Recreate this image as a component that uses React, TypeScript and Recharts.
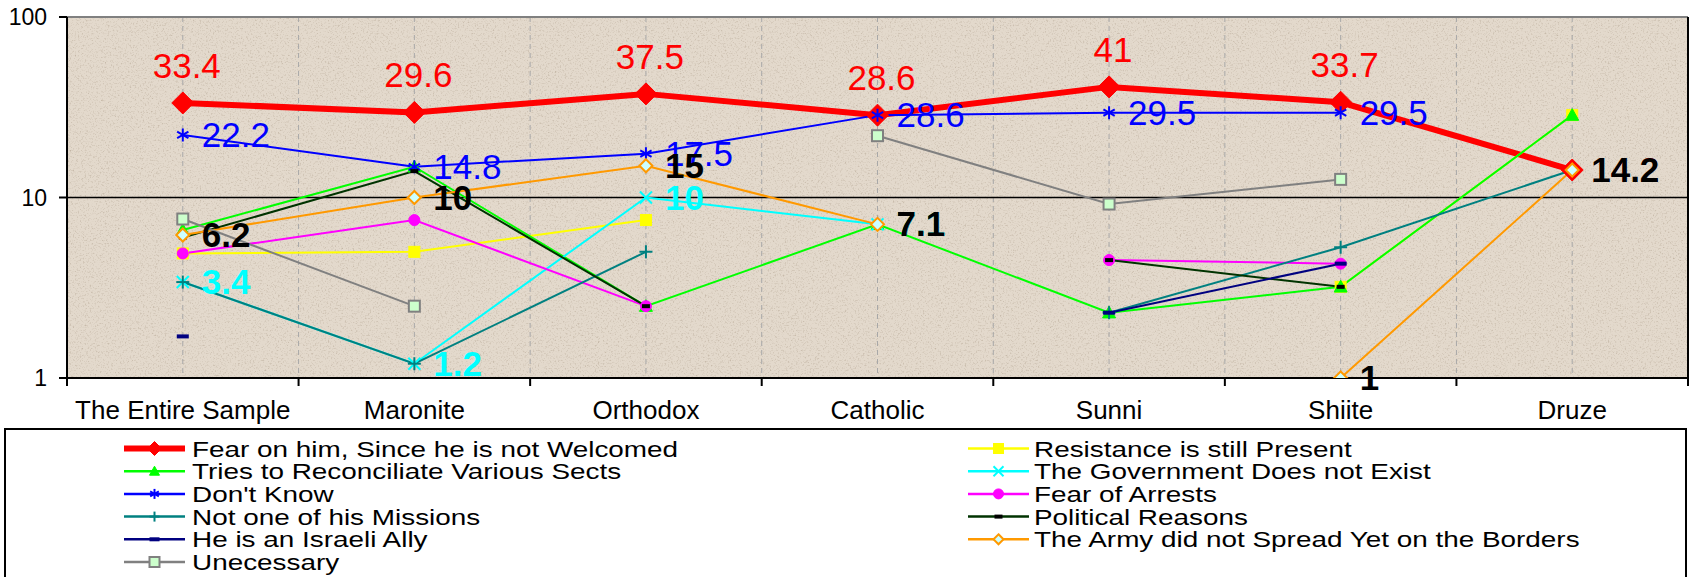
import React from 'react';
import { LineChart, Line, XAxis, YAxis, CartesianGrid, ReferenceLine } from 'recharts';

const CATEGORIES = ['The Entire Sample', 'Maronite', 'Orthodox', 'Catholic', 'Sunni', 'Shiite', 'Druze'];
const Y_TICKS = [1, 10, 100];

const fearNotWelcomed = [33.4, 29.6, 37.5, 28.6, 41, 33.7, 14.2];
const resistancePresent = [4.9, 5, 7.5, null, null, 3.2, 28.6];
const reconcileSects = [6.6, 14.8, 2.5, 7.1, 2.3, 3.2, 28.6];
const govNotExist = [3.4, 1.2, 10, 7.1, null, null, null];
const dontKnow = [22.2, 14.8, 17.5, 28.6, 29.5, 29.5, null];
const fearArrests = [4.9, 7.5, 2.5, null, 4.5, 4.3, null];
const notMission = [3.4, 1.2, 5, null, 2.3, 5.3, 14.2];
const politicalReasons = [6, 14, 2.5, null, 4.5, 3.2, null];
const israeliAlly = [1.7, null, null, null, 2.3, 4.3, null];
const armyNotSpread = [6.2, 10, 15, 7.1, null, 1, 14.2];
const unnecessary = [7.6, 2.5, null, 22, 9.2, 12.6, null];

const W = 1689;
const H = 577;
const M_TOP = 17;
const M_BOTTOM = 149;
const X_AXIS_H = 50;
const Y_AXIS_W = 67;
const RIGHT_W = 1;
const PLOT_BOTTOM = H - M_BOTTOM - X_AXIS_H;
const PLOT_W = W - Y_AXIS_W - RIGHT_W;
const BAND = PLOT_W / CATEGORIES.length;
const FONT = '"Liberation Sans", Arial, Helvetica, sans-serif';

type Series = {
  key: string;
  name: string;
  values: (number | null)[];
  color: string;
  width: number;
  marker: string;
  size: number;
  fill?: string;
  mstroke?: string;
  label?: 'above' | 'right';
  labelColor?: string;
  bold?: boolean;
};

const SERIES: Series[] = [
  { key: 'fear', name: 'Fear on him, Since he is not Welcomed', values: fearNotWelcomed, color: '#FF0000', width: 6, marker: 'diamond', size: 11, label: 'above', labelColor: '#FF0000' },
  { key: 'resist', name: 'Resistance is still Present', values: resistancePresent, color: '#FFFF00', width: 2, marker: 'square', size: 5.5 },
  { key: 'reconcile', name: 'Tries to Reconciliate Various Sects', values: reconcileSects, color: '#00FF00', width: 2, marker: 'triangle', size: 6.5 },
  { key: 'gov', name: 'The Government Does not Exist', values: govNotExist, color: '#00FFFF', width: 2, marker: 'x', size: 6, label: 'right', labelColor: '#00FFFF', bold: true },
  { key: 'dk', name: "Don't Know", values: dontKnow, color: '#0000FF', width: 2, marker: 'star', size: 6.5, label: 'right', labelColor: '#0000FF' },
  { key: 'arrest', name: 'Fear of Arrests', values: fearArrests, color: '#FF00FF', width: 2, marker: 'circle', size: 5.5 },
  { key: 'mission', name: 'Not one of his Missions', values: notMission, color: '#008080', width: 2, marker: 'plus', size: 6.5 },
  { key: 'political', name: 'Political Reasons', values: politicalReasons, color: '#003300', width: 2, marker: 'dash', size: 4, fill: '#000000' },
  { key: 'israeli', name: 'He is an Israeli Ally', values: israeliAlly, color: '#000080', width: 2, marker: 'dash', size: 6, fill: '#000080' },
  { key: 'army', name: 'The Army did not Spread Yet on the Borders', values: armyNotSpread, color: '#FF9900', width: 2, marker: 'diamond', size: 6.5, fill: '#CCFFFF', mstroke: '#FF9900', label: 'right', labelColor: '#000000', bold: true },
  { key: 'unnec', name: 'Unecessary', values: unnecessary, color: '#808080', width: 2, marker: 'square', size: 5.5, fill: '#CCFFCC', mstroke: '#808080' },
];

const LEGEND_LEFT = ['fear', 'reconcile', 'dk', 'mission', 'israeli', 'unnec'];
const LEGEND_RIGHT = ['resist', 'gov', 'arrest', 'political', 'army'];

function Marker({ s, cx, cy }: { s: Series; cx: number; cy: number }) {
  const r = s.size;
  const c = s.color;
  switch (s.marker) {
    case 'diamond':
      return (
        <polygon
          points={`${cx},${cy - r} ${cx + r},${cy} ${cx},${cy + r} ${cx - r},${cy}`}
          fill={s.fill || c}
          stroke={s.mstroke || c}
          strokeWidth={s.fill ? 2 : 1}
        />
      );
    case 'square':
      return <rect x={cx - r} y={cy - r} width={2 * r} height={2 * r} fill={s.fill || c} stroke={s.mstroke || c} strokeWidth={s.mstroke ? 2 : 1} />;
    case 'triangle':
      return <polygon points={`${cx},${cy - r} ${cx + r},${cy + r * 0.8} ${cx - r},${cy + r * 0.8}`} fill={c} stroke={c} />;
    case 'circle':
      return <circle cx={cx} cy={cy} r={r} fill={c} stroke={c} />;
    case 'star':
      return (
        <g stroke={c} strokeWidth={2}>
          <line x1={cx} y1={cy - r} x2={cx} y2={cy + r} />
          <line x1={cx - r * 0.87} y1={cy - r * 0.5} x2={cx + r * 0.87} y2={cy + r * 0.5} />
          <line x1={cx - r * 0.87} y1={cy + r * 0.5} x2={cx + r * 0.87} y2={cy - r * 0.5} />
        </g>
      );
    case 'x':
      return (
        <g stroke={c} strokeWidth={2}>
          <line x1={cx - r} y1={cy - r} x2={cx + r} y2={cy + r} />
          <line x1={cx - r} y1={cy + r} x2={cx + r} y2={cy - r} />
        </g>
      );
    case 'plus':
      return (
        <g stroke={c} strokeWidth={2}>
          <line x1={cx} y1={cy - r} x2={cx} y2={cy + r} />
          <line x1={cx - r} y1={cy} x2={cx + r} y2={cy} />
        </g>
      );
    case 'dash':
      return <rect x={cx - r} y={cy - 2} width={2 * r} height={4} fill={s.fill || c} />;
    default:
      return null;
  }
}

function makeDot(s: Series) {
  return (p: any) => {
    const k = `${s.key}-dot-${p.index}`;
    if (p.cx == null || p.cy == null || p.value == null || (Array.isArray(p.value) && p.value[1] == null)) return <g key={k} />;
    return (
      <g key={k}>
        <Marker s={s} cx={p.cx} cy={p.cy} />
      </g>
    );
  };
}

function makeLabel(s: Series) {
  return (p: any) => {
    const k = `${s.key}-lbl-${p.index}`;
    const x = p.x ?? p.viewBox?.x;
    const y = p.y ?? p.viewBox?.y;
    if (p.value == null || x == null || y == null) return <g key={k} />;
    const right = s.label === 'right' || p.index === CATEGORIES.length - 1;
    return (
      <text
        key={k}
        x={right ? x + 19 : x + 4}
        y={right ? y + 12 : y - 25}
        textAnchor={right ? 'start' : 'middle'}
        fill={s.labelColor}
        fontSize={35}
        fontWeight={s.bold ? 'bold' : 'normal'}
        fontFamily={FONT}
      >
        {p.value}
      </text>
    );
  };
}

function CatTick(props: any) {
  const { x, payload, index } = props;
  return (
    <g>
      <line x1={x - BAND / 2} y1={PLOT_BOTTOM} x2={x - BAND / 2} y2={PLOT_BOTTOM + 8} stroke="#000" strokeWidth={2} />
      {index === CATEGORIES.length - 1 && (
        <line x1={x + BAND / 2} y1={PLOT_BOTTOM} x2={x + BAND / 2} y2={PLOT_BOTTOM + 8} stroke="#000" strokeWidth={2} />
      )}
      <text x={x} y={PLOT_BOTTOM + 41} textAnchor="middle" fontSize={26} fill="#000" fontFamily={FONT}>
        {payload.value}
      </text>
    </g>
  );
}

function LegendBox() {
  const rowY = (i: number) => 20.5 + i * 22.7;
  const item = (key: string, i: number, lineX1: number, textX: number) => {
    const s = SERIES.find((q) => q.key === key)!;
    const y = rowY(i);
    const mid = lineX1 + 30.5;
    const legendMarker: Series = { ...s, size: s.marker === 'diamond' && !s.fill ? 7 : Math.min(s.size, 5) };
    return (
      <g key={key}>
        <line x1={lineX1} y1={y} x2={lineX1 + 61} y2={y} stroke={s.color} strokeWidth={s.key === 'fear' ? 6 : 2.5} />
        <Marker s={legendMarker} cx={mid} cy={y} />
        <g transform={`translate(${textX},${y + 8}) scale(1.24,1)`}>
          <text x={0} y={0} fontSize={22.5} fill="#000" fontFamily={FONT}>
            {s.name}
          </text>
        </g>
      </g>
    );
  };
  return (
    <svg width={W} height={149} style={{ position: 'absolute', left: 0, top: 428 }}>
      <rect x={5} y={1} width={1681} height={160} fill="#fff" stroke="#000" strokeWidth={2} />
      {LEGEND_LEFT.map((k, i) => item(k, i, 124, 192))}
      {LEGEND_RIGHT.map((k, i) => item(k, i, 968, 1034))}
    </svg>
  );
}

export default function App() {
  const data = CATEGORIES.map((cat, i) => {
    const row: Record<string, any> = { cat };
    SERIES.forEach((s) => {
      row[s.key] = s.values[i];
    });
    return row;
  });

  const vGen = ({ offset }: any) => {
    const out: number[] = [];
    const n = CATEGORIES.length * 2;
    for (let k = 1; k < n; k++) out.push(offset.left + (k * offset.width) / n);
    return out;
  };

  return (
    <div style={{ position: 'absolute', left: 0, top: 0, width: W, height: H, background: '#fff', fontFamily: FONT }}>
      <LineChart width={W} height={H} data={data} margin={{ top: M_TOP, right: 0, left: 0, bottom: M_BOTTOM }}>
        <defs>
          <filter id="speckle" x="0" y="0" width="100%" height="100%">
            <feTurbulence type="fractalNoise" baseFrequency="0.6" numOctaves="3" seed="7" result="n" />
            <feColorMatrix in="n" type="matrix" values="0 0 0 0 0.55  0 0 0 0 0.47  0 0 0 0 0.38  2.4 0 0 0 -1.25" />
          </filter>
          <pattern id="sand" patternUnits="userSpaceOnUse" x="0" y="0" width={W} height={H}>
            <rect x="0" y="0" width={W} height={H} fill="#E3D9CC" />
            <rect x="0" y="0" width={W} height={H} filter="url(#speckle)" />
          </pattern>
        </defs>
        <CartesianGrid
          horizontal={false}
          vertical
          verticalCoordinatesGenerator={vGen}
          stroke="#A8A8A8"
          strokeDasharray="5 4"
          fill="url(#sand)"
          fillOpacity={1}
        />
        <XAxis
          dataKey="cat"
          height={X_AXIS_H}
          interval={0}
          padding={{ left: BAND / 2, right: BAND / 2 }}
          axisLine={{ stroke: '#000', strokeWidth: 2 }}
          tickLine={false}
          tick={<CatTick />}
        />
        <YAxis
          type="number"
          scale="log"
          domain={[1, 100]}
          ticks={Y_TICKS}
          allowDataOverflow
          width={Y_AXIS_W}
          tickSize={8}
          tickMargin={12}
          tick={{ fontSize: 23, fill: '#000', fontFamily: FONT }}
          axisLine={{ stroke: '#000', strokeWidth: 2 }}
          tickLine={{ stroke: '#000', strokeWidth: 2 }}
        />
        <YAxis
          yAxisId="r"
          orientation="right"
          type="number"
          scale="log"
          domain={[1, 100]}
          width={RIGHT_W}
          tick={false}
          tickLine={false}
          axisLine={{ stroke: '#000', strokeWidth: 2 }}
        />
        <ReferenceLine y={100} stroke="#808080" strokeWidth={2} />
        <ReferenceLine y={10} stroke="#000" strokeWidth={1.5} />
        {SERIES.map((s) => (
          <Line
            key={s.key}
            type="linear"
            dataKey={s.key}
            name={s.name}
            stroke={s.color}
            strokeWidth={s.width}
            dot={makeDot(s)}
            activeDot={false}
            isAnimationActive={false}
            label={s.label ? makeLabel(s) : false}
          />
        ))}
      </LineChart>
      <LegendBox />
    </div>
  );
}
